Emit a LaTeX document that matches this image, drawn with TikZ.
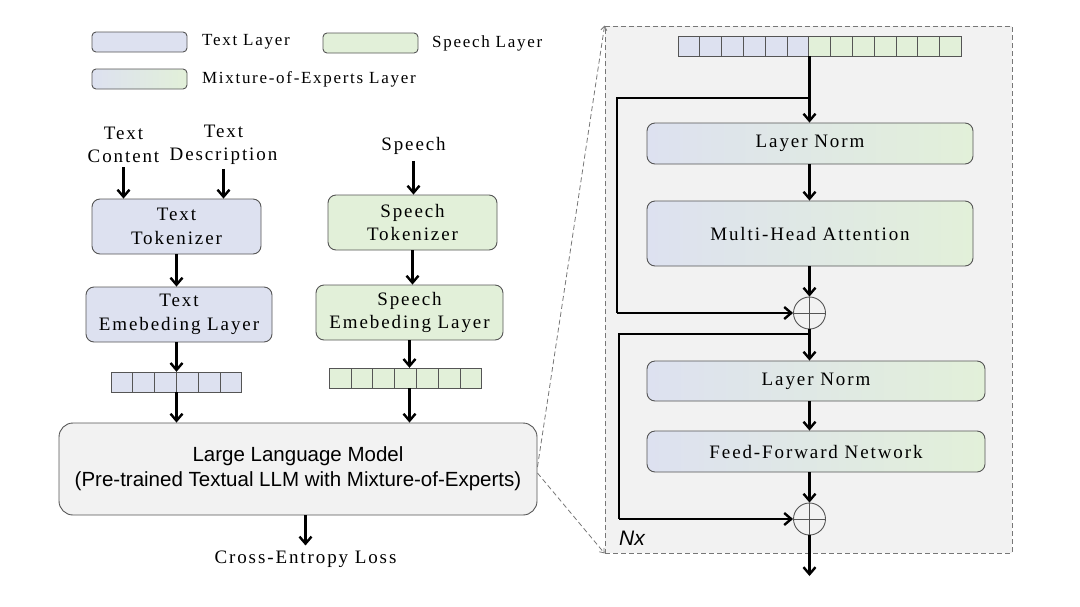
\documentclass[tikz,border=0pt]{standalone}
\usepackage{fontspec}
\setmainfont{Liberation Serif}[LetterSpace=10]
\newfontfamily\llmfont{Liberation Sans}
\usetikzlibrary{arrows.meta,shadings,calc}
\definecolor{textc}{RGB}{221,225,240}
\definecolor{speechc}{RGB}{226,240,217}
\definecolor{panelc}{RGB}{242,242,242}
\definecolor{bordc}{RGB}{85,85,85}
\begin{document}
\begin{tikzpicture}[x=1pt,y=-1pt,
  serif/.style={font=\fontsize{19}{23}\selectfont, align=center, inner sep=0},
  legtext/.style={font=\fontsize{17}{20}\selectfont, inner sep=0, anchor=west},
  box/.style={draw=bordc, line width=0.9pt, rounded corners=8pt, align=center, inner sep=0, font=\fontsize{19}{23.5}\selectfont},
  tbox/.style={box, fill=textc},
  sbox/.style={box, fill=speechc},
  mbox/.style={box, left color=textc, right color=speechc},
  legbox/.style={draw=bordc, line width=0.9pt, rounded corners=4pt, minimum width=95pt, minimum height=20pt, inner sep=0},
  cell/.style={draw=bordc, line width=0.8pt, minimum width=21.8pt, minimum height=20pt, inner sep=0},
  arr/.style={-{Straight Barb[length=7pt,width=12pt]}, line width=2.4pt},
  thick line/.style={line width=2.4pt},
  dsh/.style={draw=bordc!80, line width=0.8pt, dash pattern=on 5pt off 3pt},
  plus/.style={circle, draw=bordc, line width=0.9pt, minimum size=32pt, inner sep=0,
    path picture={\draw[bordc, line width=0.9pt] (path picture bounding box.north) -- (path picture bounding box.south)
      (path picture bounding box.west) -- (path picture bounding box.east);}}
]
\useasboundingbox (0,0) rectangle (1080,606);

% legend
\node[legbox, fill=textc] (lt) at (139.5,42) {};
\node[legtext] (ltl) at (202,42) {Text Layer};
\node[legbox, fill=speechc] (ls) at (370.5,43) {};
\node[legtext] (lsl) at (432,43) {Speech Layer};
\node[legbox, left color=textc, right color=speechc] (lm) at (139.5,79) {};
\node[legtext] (lml) at (202,79) {Mixture-of-Experts Layer};

% right panel
\node[dsh, fill=panelc, minimum width=407pt, minimum height=527pt, inner sep=0] (panel) at (808.5,289.5) {};

% left column
\node[serif] (tc) at (123.5,145) {Text\\Content};
\node[serif] (td) at (223.5,145) {Text\\Description};
\node[tbox, minimum width=169pt, minimum height=55pt] (ttok) at (176.5,226.5) {Text\\Tokenizer};
\node[tbox, minimum width=186pt, minimum height=55pt] (temb) at (179,314.5) {Text\\Emebeding Layer};
\node[minimum width=130.8pt, minimum height=20pt, inner sep=0] (tbar) at (176.5,382) {};
\foreach \i in {0,...,5} \node[cell, fill=textc] (tb\i) at (121.9+21.8*\i,382) {};

\node[serif] (sp) at (413.5,146) {Speech};
\node[sbox, minimum width=169pt, minimum height=55pt] (stok) at (412.5,222.5) {Speech\\Tokenizer};
\node[sbox, minimum width=187pt, minimum height=55pt] (semb) at (409.5,312.5) {Speech\\Emebeding Layer};
\node[minimum width=152.6pt, minimum height=20pt, inner sep=0] (sbar) at (405.5,378) {};
\foreach \i in {0,...,6} \node[cell, fill=speechc] (sb\i) at (340.1+21.8*\i,378) {};

\node[draw=bordc, line width=0.9pt, fill=panelc, rounded corners=14pt, minimum width=478pt, minimum height=92pt, align=center, inner sep=0,
  font=\llmfont\fontsize{20.5}{25}\selectfont] (llm) at (298,469) {Large Language Model\\(Pre-trained Textual LLM with Mixture-of-Experts)};
\node[serif] (ce) at (305.5,559) {Cross-Entropy Loss};

\draw[arr] (tc.south) ++(0,4) -- (tc.south |- ttok.north);
\draw[arr] (td.south) ++(0,4) -- (td.south |- ttok.north);
\draw[arr] (ttok.south) -- (ttok.south |- temb.north);
\draw[arr] (tbar.south |- temb.south) -- (tbar.north);
\draw[arr] (tbar.south) -- (tbar.south |- llm.north);
\draw[arr] (sp.south) ++(0,6) -- (sp.south |- stok.north);
\draw[arr] (stok.south) -- (stok.south |- semb.north);
\draw[arr] (semb.south) -- (semb.south |- sbar.north);
\draw[arr] (semb.south |- sbar.south) -- (semb.south |- llm.north);
\draw[arr] (ce.north |- llm.south) -- ([yshift=5pt]ce.north);

% zoom lines
\draw[dsh, -{Straight Barb[length=4pt,width=6pt]}] ([yshift=2pt]llm.east) -- (panel.north west);
\draw[dsh, -{Straight Barb[length=4pt,width=6pt]}] ([yshift=-4pt]llm.east) -- (panel.south west);

% transformer block
\node[minimum width=283.4pt, minimum height=20pt, inner sep=0] (mbar) at (820.2,46) {};
\foreach \i in {0,...,5} \node[cell, fill=textc] (mb\i) at (688.9+21.8*\i,46) {};
\foreach \i in {6,...,12} \node[cell, fill=speechc] (mb\i) at (688.9+21.8*\i,46) {};
\coordinate (top) at (809.5,56);
\node[mbox, minimum width=326pt, minimum height=41pt] (ln1) at (810,143.5) {Layer Norm};
\node[mbox, minimum width=326pt, minimum height=65pt] (mha) at (810,233.5) {Multi-Head Attention};
\node[plus] (p1) at (809.5,313) {};
\node[mbox, minimum width=338pt, minimum height=40pt] (ln2) at (816,381) {Layer Norm};
\node[mbox, minimum width=338pt, minimum height=41pt] (ffn) at (816,451.5) {Feed-Forward Network};
\node[plus] (p2) at (809.5,519) {};
\coordinate (out) at (809.5,576);
\node[font=\llmfont\itshape\fontsize{21}{23}\selectfont, inner sep=0] (nx) at (632,538) {Nx};

\coordinate (b1) at (809.5,98);
\coordinate (b2) at (809.5,334);
\draw[arr] (top) -- (top |- ln1.north);
\draw[thick line] (b1) -- (617,98) -- (617,313);
\draw[arr] (617,313) -- (p1.west);
\draw[arr] (p1.north |- ln1.south) -- (p1.north |- mha.north);
\draw[arr] (p1.north |- mha.south) -- (p1.north);
\draw[thick line] (p1.south) -- (b2);
\draw[arr] (b2) -- (b2 |- ln2.north);
\draw[thick line] (b2) -- (619,334) -- (619,519);
\draw[arr] (619,519) -- (p2.west);
\draw[arr] (p2.north |- ln2.south) -- (p2.north |- ffn.north);
\draw[arr] (p2.north |- ffn.south) -- (p2.north);
\draw[arr] (p2.south) -- (out);
\end{tikzpicture}
\end{document}
